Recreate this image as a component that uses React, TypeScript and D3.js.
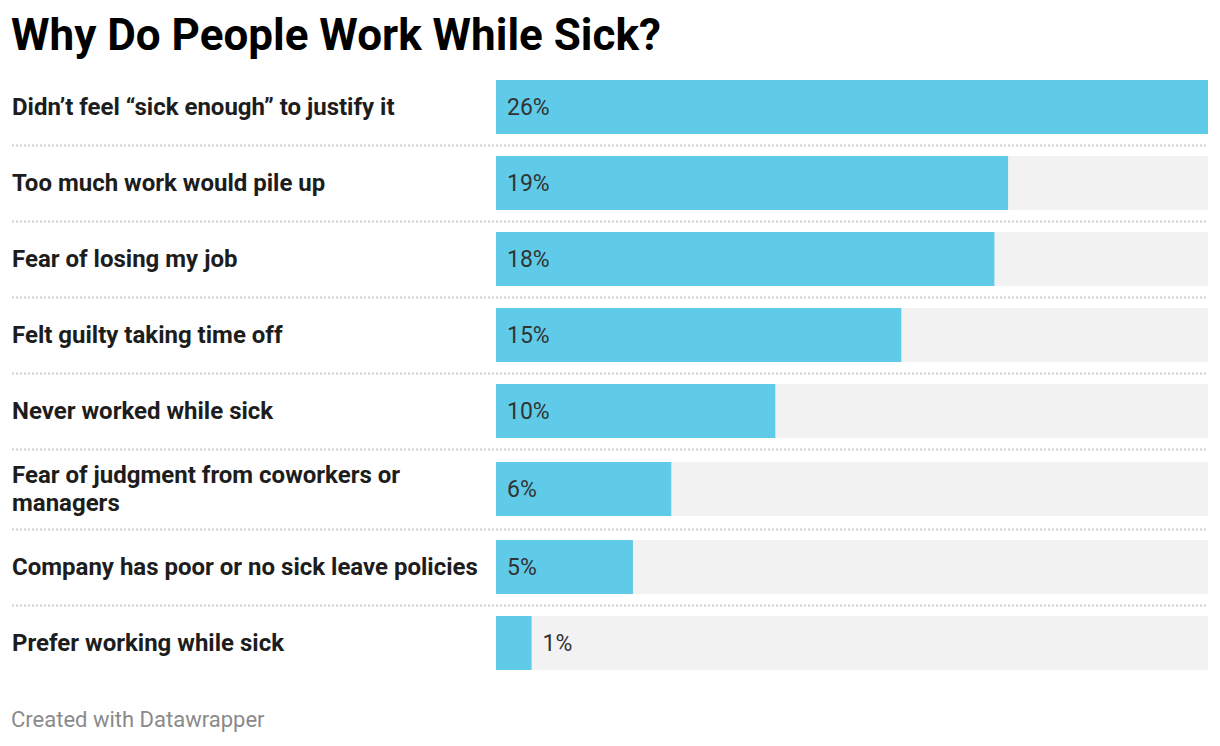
import { useEffect, useRef } from 'react';
import * as d3 from 'd3';

// Survey answers, top to bottom
const reasons = [
  'Didn’t feel “sick enough” to justify it',
  'Too much work would pile up',
  'Fear of losing my job',
  'Felt guilty taking time off',
  'Never worked while sick',
  'Fear of judgment from coworkers or managers',
  'Company has poor or no sick leave policies',
  'Prefer working while sick',
];
// Share of respondents (%), shown rounded
const shares = [26.0, 18.7, 18.2, 14.8, 10.2, 6.4, 5.0, 1.3];

const BAR_COLOR = '#5fcbe8';
const TRACK_COLOR = '#f2f2f2';
const LABEL_COLOR = '#1d1d1d';
const VALUE_COLOR = '#333333';
const RULE_COLOR = '#cfcfcf';
const FONT = 'Roboto, "Noto Sans", sans-serif';

const W = 1220;
const H = 746;

export default function App() {
  const svgRef = useRef<SVGSVGElement>(null);

  useEffect(() => {
    if (!svgRef.current) return;
    const svg = d3.select(svgRef.current);
    svg.selectAll('*').remove();

    const labelLeft = 12;
    const labelWidth = 472;
    const barLeft = 496;
    const barRight = 1208;
    const barH = 54;
    const lineH = 28;
    const labelSize = 24;

    // Title
    svg.append('text')
      .attr('x', 11)
      .attr('y', 50)
      .attr('font-family', FONT)
      .attr('font-weight', 700)
      .attr('font-size', 44)
      .attr('fill', '#000')
      .text('Why Do People Work While Sick?');

    const x = d3.scaleLinear()
      .domain([0, d3.max(shares) as number])
      .range([barLeft, barRight]);

    // measure + wrap labels first so rows can grow
    const labelG = svg.append('g');
    const wrapped: string[][] = reasons.map(r => {
      const words = r.split(' ');
      const lines: string[] = [];
      let cur = '';
      const probe = labelG.append('text')
        .attr('font-family', FONT)
        .attr('font-weight', 700)
        .attr('font-size', labelSize);
      for (const w of words) {
        const test = cur ? cur + ' ' + w : w;
        probe.text(test);
        const len = (probe.node() as SVGTextElement).getComputedTextLength();
        if (len > labelWidth && cur) {
          lines.push(cur);
          cur = w;
        } else {
          cur = test;
        }
      }
      if (cur) lines.push(cur);
      probe.remove();
      return lines;
    });

    // row heights (two-line labels make the row a little taller)
    const rowH = wrapped.map(l => (l.length > 1 ? 80 : 76));
    const rowTop: number[] = [];
    let acc = 69;
    rowH.forEach(h => { rowTop.push(acc); acc += h; });

    const rows = svg.append('g').selectAll('g.row')
      .data(reasons.map((r, i) => ({ r, v: shares[i], i })))
      .join('g')
      .attr('class', 'row');

    // separators
    rows.filter(d => d.i < reasons.length - 1)
      .append('line')
      .attr('x1', labelLeft)
      .attr('x2', barRight)
      .attr('y1', d => rowTop[d.i] + rowH[d.i] + 0.5)
      .attr('y2', d => rowTop[d.i] + rowH[d.i] + 0.5)
      .attr('stroke', RULE_COLOR)
      .attr('stroke-width', 2)
      .attr('stroke-dasharray', '2,2');

    const mid = (i: number) => rowTop[i] + rowH[i] / 2;

    // background track
    rows.append('rect')
      .attr('x', barLeft)
      .attr('y', d => mid(d.i) - barH / 2)
      .attr('width', barRight - barLeft)
      .attr('height', barH)
      .attr('fill', TRACK_COLOR);

    // bar
    rows.append('rect')
      .attr('x', barLeft)
      .attr('y', d => mid(d.i) - barH / 2)
      .attr('width', d => x(d.v) - barLeft)
      .attr('height', barH)
      .attr('fill', BAR_COLOR);

    // value labels
    rows.append('text')
      .attr('x', d => (x(d.v) - barLeft > 60 ? barLeft + 11 : x(d.v) + 11))
      .attr('y', d => mid(d.i) + 7.5)
      .attr('font-family', FONT)
      .attr('font-size', 23)
      .attr('fill', VALUE_COLOR)
      .text(d => `${Math.round(d.v)}%`);

    // category labels
    rows.append('text')
      .attr('font-family', FONT)
      .attr('font-weight', 700)
      .attr('font-size', labelSize)
      .attr('fill', LABEL_COLOR)
      .each(function (d) {
        const lines = wrapped[d.i];
        const first = mid(d.i) + 7.5 - ((lines.length - 1) * lineH) / 2;
        d3.select(this).selectAll('tspan')
          .data(lines)
          .join('tspan')
          .attr('x', labelLeft)
          .attr('y', (_, k) => first + k * lineH)
          .text(t => t);
      });

    // footer
    svg.append('text')
      .attr('x', 11)
      .attr('y', 727)
      .attr('font-family', FONT)
      .attr('font-size', 22)
      .attr('fill', '#8a8a8a')
      .text('Created with Datawrapper');
  }, []);

  return (
    <svg
      ref={svgRef}
      width={W}
      height={H}
      viewBox={`0 0 ${W} ${H}`}
      style={{ position: 'absolute', left: 0, top: 0, background: '#fff' }}
    />
  );
}
